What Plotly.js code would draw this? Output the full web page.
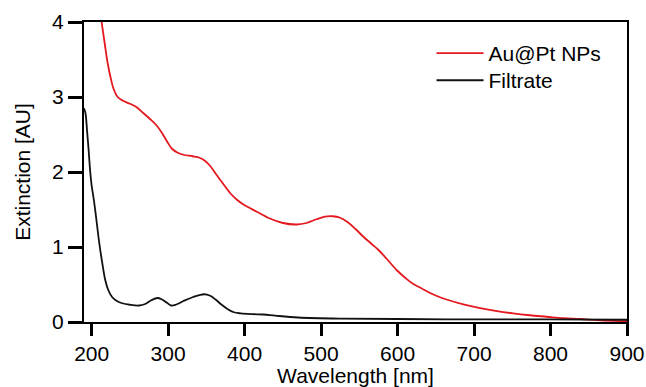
<!DOCTYPE html>
<html>
<head>
<meta charset="utf-8">
<script src="https://cdn.plot.ly/plotly-3.0.1.min.js"></script>
<style>html,body{margin:0;padding:0;background:#fff}#chart{width:646px;height:387px}</style>
</head>
<body>
<div id="chart"></div>
<script>
// Au@Pt NPs extinction spectrum (wavelength nm, extinction AU)
var auptWavelength = [209, 213, 217, 221, 225, 229, 234, 241, 250, 258, 267, 276, 285, 292, 299, 305, 312, 320, 332, 341, 348, 355, 362, 370, 381, 390, 398, 416, 433, 450, 468, 481, 494, 505, 515, 525, 535, 545, 555, 565, 575, 586, 599, 610, 620, 631, 642, 653, 664, 686, 708, 730, 751, 773, 795, 817, 839, 860, 882, 900];
var auptExtinction = [4.3, 4.0, 3.72, 3.45, 3.25, 3.10, 3.00, 2.95, 2.91, 2.87, 2.79, 2.71, 2.62, 2.52, 2.40, 2.31, 2.26, 2.23, 2.21, 2.19, 2.15, 2.08, 1.98, 1.87, 1.72, 1.63, 1.57, 1.47, 1.38, 1.32, 1.30, 1.32, 1.37, 1.405, 1.41, 1.39, 1.33, 1.24, 1.14, 1.05, 0.96, 0.84, 0.69, 0.59, 0.51, 0.45, 0.39, 0.34, 0.30, 0.235, 0.185, 0.145, 0.115, 0.09, 0.07, 0.05, 0.04, 0.025, 0.015, 0.01];

// Filtrate extinction spectrum
var filtrateWavelength = [190, 192, 194, 196, 198, 200, 203, 206, 210, 214, 218, 222, 227, 233, 240, 250, 262, 270, 278, 286, 292, 298, 304, 310, 320, 332, 347, 355, 362, 370, 378, 386, 395, 410, 425, 440, 470, 525, 600, 700, 800, 900];
var filtrateExtinction = [2.85, 2.78, 2.55, 2.30, 2.02, 1.82, 1.62, 1.38, 1.05, 0.78, 0.55, 0.42, 0.33, 0.28, 0.25, 0.23, 0.22, 0.24, 0.29, 0.32, 0.30, 0.26, 0.22, 0.23, 0.28, 0.33, 0.37, 0.35, 0.30, 0.23, 0.17, 0.13, 0.115, 0.105, 0.10, 0.085, 0.06, 0.045, 0.04, 0.035, 0.035, 0.03];

var seriesNames = ["Au@Pt NPs", "Filtrate"];
var xTickVals = [200, 300, 400, 500, 600, 700, 800, 900];
var yTickVals = [0, 1, 2, 3, 4];

var font = "Liberation Sans, Arial, sans-serif";

var traces = [
  {x: auptWavelength, y: auptExtinction, name: seriesNames[0], type: "scatter", mode: "lines",
   legend: "legend", line: {color: "#e3191f", width: 1.8, shape: "spline", smoothing: 1.0}},
  {x: filtrateWavelength, y: filtrateExtinction, name: seriesNames[1], type: "scatter", mode: "lines",
   legend: "legend2", line: {color: "#111111", width: 1.8, shape: "spline", smoothing: 1.0}}
];

function axisBase() {
  return {
    showgrid: false, zeroline: false, showline: true, linecolor: "#000", linewidth: 2,
    mirror: true, ticks: "outside", tickcolor: "#000", tickwidth: 3,
    tickfont: {family: font, size: 21, color: "#000"}
  };
}

var legendBase = {xanchor: "left", yanchor: "top", bgcolor: "rgba(0,0,0,0)",
  borderwidth: 0, font: {family: font, size: 21, color: "#000"}, itemwidth: 47};

var layout = {
  width: 646, height: 387,
  margin: {l: 84, r: 19, t: 22, b: 65},
  paper_bgcolor: "#fff", plot_bgcolor: "#fff",
  font: {family: font, size: 21, color: "#000"},
  showlegend: true,
  legend: Object.assign({}, legendBase, {x: 0.64, y: 0.9635}),
  legend2: Object.assign({}, legendBase, {x: 0.64, y: 0.873}),
  xaxis: Object.assign(axisBase(), {
    range: [190, 900], nticks: xTickVals.length + 1, ticklen: 12,
    title: {text: "Wavelength [nm]", font: {family: font, size: 21, color: "#000"}, standoff: 8}
  }),
  yaxis: Object.assign(axisBase(), {
    range: [0, 4], nticks: yTickVals.length + 1, ticklen: 14,
    title: {text: "Extinction [AU]", font: {family: font, size: 21, color: "#000"}, standoff: 16}
  })
};

Plotly.newPlot("chart", traces, layout, {displayModeBar: false});
</script>
</body>
</html>
